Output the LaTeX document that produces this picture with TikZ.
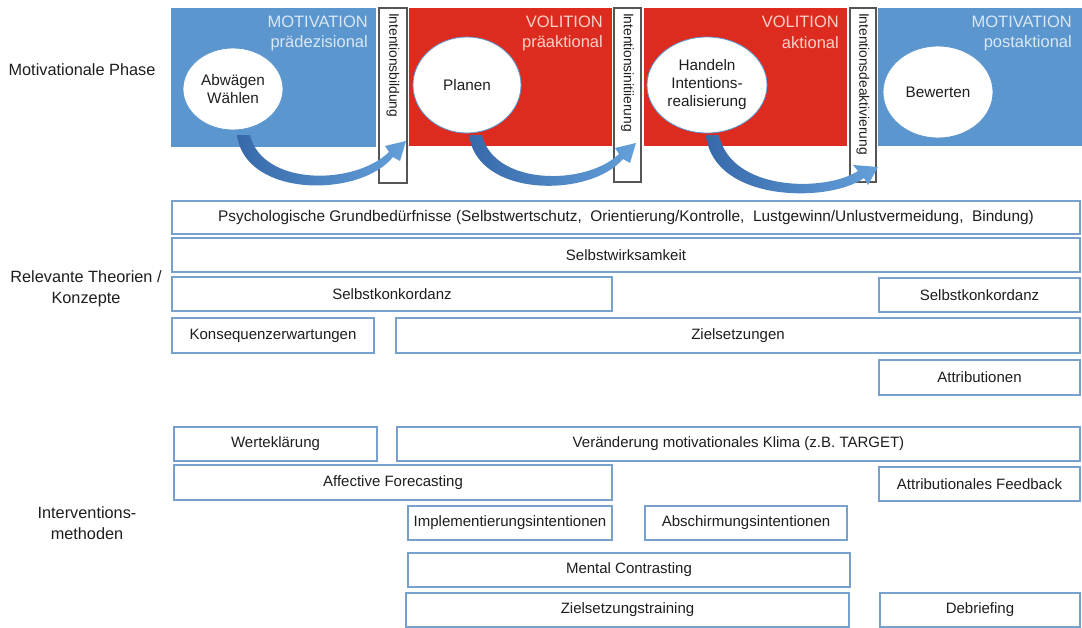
\documentclass[tikz,border=0pt]{standalone}
\usepackage{fontspec}
\setmainfont{Liberation Sans}
\usetikzlibrary{shapes.geometric}
\definecolor{panelblue}{RGB}{91,150,206}
\definecolor{panelred}{RGB}{221,44,31}
\definecolor{boxline}{RGB}{120,160,205}
\definecolor{txt}{RGB}{30,30,30}
\definecolor{arrA}{RGB}{55,105,170}
\definecolor{arrB}{RGB}{100,160,218}
\definecolor{tblue}{RGB}{218,232,246}
\definecolor{tred}{RGB}{250,208,200}
\definecolor{vline}{RGB}{85,85,85}
\newcommand\bx[6]{\node[tbox, minimum width={(#4-#2)*1pt}, minimum height={(#5-#3)*1pt}] (#1) at ({(#2+#4)/2},{(#3+#5)/2}) {#6};}
\newcommand\pnl[6]{\node[pnlbox, fill=#6, minimum width={(#4-#2)*1pt}, minimum height={(#5-#3)*1pt}] (#1) at ({(#2+#4)/2},{(#3+#5)/2}) {};}
\newcommand\vbx[6]{\node[vbox, minimum width={(#5-#3)*1pt}, minimum height={(#4-#2)*1pt}, text width={(#5-#3-10)*1pt}] (#1) at ({(#2+#4)/2},{(#3+#5)/2}) {#6};}
\begin{document}
\begin{tikzpicture}[x=1pt,y=-1pt,
  tbox/.style={draw=boxline, line width=1.3pt, fill=white, inner sep=0pt, outer sep=0pt, text=txt, font=\fontsize{15}{18}\selectfont},
  pnlbox/.style={inner sep=0pt, outer sep=0pt},
  vbox/.style={draw=vline, line width=1.1pt, fill=white, rotate=-90, inner xsep=5pt, inner ysep=0pt, align=left, text=txt, font=\fontsize{13.8}{16}\selectfont},
  ttl/.style={anchor=east, inner sep=0pt, font=\fontsize{16.5}{19}\selectfont},
  ell/.style={ellipse, draw=panelblue, line width=0.8pt, fill=white, inner sep=0pt, align=center, text=txt, font=\fontsize{15.3}{18}\selectfont},
  lbl/.style={align=center, inner sep=0pt, text=txt, font=\fontsize{16.3}{20.5}\selectfont},
  barrow/.style={left color=arrA, right color=arrB, draw=none}
]
\useasboundingbox (0,0) rectangle (1082,627);
% panels
\pnl{p1}{171}{8}{376}{147}{panelblue}
\pnl{p2}{409}{8}{612}{146}{panelred}
\pnl{p3}{644}{8}{847}{146}{panelred}
\pnl{p4}{878}{8}{1082}{146}{panelblue}
\node[ttl, text=tblue] (t1a) at (368,22) {MOTIVATION};
\node[ttl, text=tblue] (t1b) at (368,43) {prädezisional};
\node[ttl, text=tred] (t2a) at (603,22) {VOLITION};
\node[ttl, text=tred] (t2b) at (603,43) {präaktional};
\node[ttl, text=tred] (t3a) at (839,22) {VOLITION};
\node[ttl, text=tred] (t3b) at (839,43) {aktional};
\node[ttl, text=tblue] (t4a) at (1072,22) {MOTIVATION};
\node[ttl, text=tblue] (t4b) at (1072,43) {postaktional};
% vertical boxes
\vbx{v1}{379}{8}{407}{183}{Intentionsbildung}
\vbx{v2}{614}{8}{641}{182}{Intentionsinitiierung}
\vbx{v3}{850}{8}{876}{182}{Intentionsdeaktivierung}
% curved arrows
\path[barrow] (237,135) .. controls (245,198) and (360,198) .. (393,157)
  -- (400,161) -- (406,141) -- (385,146) -- (389,152)
  .. controls (354,186) and (262,186) .. (250,135) -- cycle;
\path[barrow] (469,135) .. controls (477,198) and (590,198) .. (623,159)
  -- (630,163) -- (636,143) -- (615,148) -- (619,154)
  .. controls (586,186) and (494,186) .. (482,135) -- cycle;
\path[barrow] (706,135) .. controls (713,203) and (830,203) .. (864,178)
  -- (868,185) -- (878,167) -- (853,165) -- (858,171)
  .. controls (826,192) and (731,192) .. (719,135) -- cycle;
% circles
\node[ell, minimum width=100pt, minimum height=82pt] (c1) at (233,89) {Abwägen\\Wählen};
\node[ell, minimum width=108pt, minimum height=96pt] (c2) at (467,85) {Planen};
\node[ell, minimum width=120pt, minimum height=96pt] (c3) at (707,85) {Handeln\\Intentions-\\realisierung};
\node[ell, minimum width=110pt, minimum height=92pt] (c4) at (938,92) {Bewerten};
% left labels
\node[lbl] (lab1) at (82,70) {Motivationale Phase};
\node[lbl] (lab2) at (86,289) {Relevante Theorien /\\Konzepte};
\node[lbl] (lab3) at (87,523) {Interventions-\\methoden};
% theory boxes
\bx{psy}{172}{201}{1080}{234}{\fontsize{15.4}{18}\selectfont Psychologische Grundbedürfnisse (Selbstwertschutz,\ \ Orientierung/Kontrolle,\ \ Lustgewinn/Unlustvermeidung,\ \ Bindung)}
\bx{sw}{172}{238}{1080}{272}{Selbstwirksamkeit}
\bx{sk1}{172}{277}{612}{311}{Selbstkonkordanz}
\bx{sk2}{879}{278}{1080}{312}{Selbstkonkordanz}
\bx{ke}{172}{318}{374}{353}{Konsequenzerwartungen}
\bx{zs}{396}{318}{1080}{353}{Zielsetzungen}
\bx{att}{879}{360}{1080}{395}{Attributionen}
% intervention boxes
\bx{wk}{174}{427}{377}{461}{Werteklärung}
\bx{vmk}{397}{427}{1080}{461}{Veränderung motivationales Klima (z.B. TARGET)}
\bx{af}{174}{465}{612}{500}{Affective Forecasting}
\bx{afb}{879}{467}{1080}{501}{Attributionales Feedback}
\bx{ii}{408}{506}{612}{540}{Implementierungsintentionen}
\bx{ai}{645}{506}{847}{540}{Abschirmungsintentionen}
\bx{mc}{408}{553}{850}{587}{Mental Contrasting}
\bx{zt}{406}{593}{849}{627}{Zielsetzungstraining}
\bx{db}{880}{593}{1080}{627}{Debriefing}
\end{tikzpicture}
\end{document}
